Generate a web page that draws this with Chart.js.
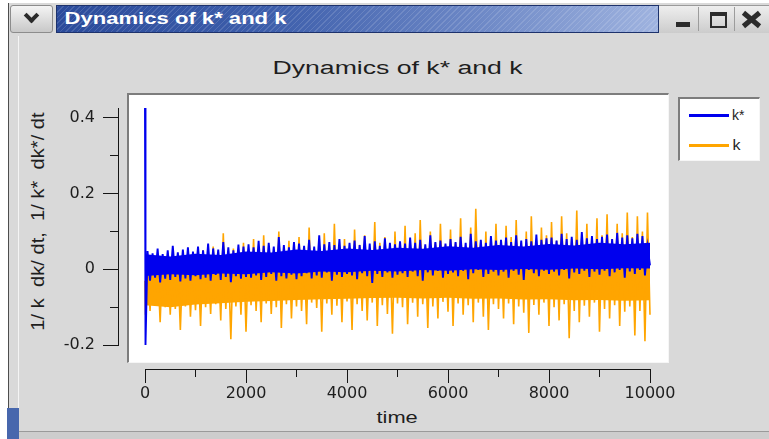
<!DOCTYPE html>
<html>
<head>
<meta charset="utf-8">
<title>Dynamics of k* and k</title>
<script src="https://cdn.jsdelivr.net/npm/chart.js@4.4.1/dist/chart.umd.min.js"></script>
<style>
  html, body { margin: 0; padding: 0; background: #fff; }
  #screen { position: relative; width: 769px; height: 439px; overflow: hidden; background: #fff; font-family: "Liberation Sans", Arial, sans-serif; }
  .abs { position: absolute; }
  .txt { position: absolute; white-space: pre; color: #1e1e1e; line-height: 1; }
  #win { left: 8px; top: 3px; width: 761px; height: 436px; background: #d9d9d9; border-left: 1px solid #4d4d4d; box-sizing: border-box; }
  #innerLine { left: 18px; top: 36px; width: 1px; height: 395px; background: #f4f4f4; }
  #bottomLine { left: 19px; top: 431px; width: 750px; height: 1px; background: #9a9a9a; }
  #bottomStrip { left: 19px; top: 432px; width: 750px; height: 7px; background: #cdcdcd; }
  #taskBlue { left: 7px; top: 408px; width: 12px; height: 31px; background: #4767ad; }
  #menuBtn { left: 10px; top: 5px; width: 43px; height: 28px; box-sizing: border-box; border: 1px solid #8c8c8c; border-radius: 3px; background: linear-gradient(#f4f4f4, #c8c8c8); }
  #chev { left: 15px; top: 4px; width: 7px; height: 7px; border-right: 4px solid #2a2a2a; border-bottom: 4px solid #2a2a2a; transform: rotate(45deg); }
  #titleBar { left: 56px; top: 5px; width: 603px; height: 28px; box-sizing: border-box; border: 1px solid #1d326c;
    background: repeating-linear-gradient(135deg, rgba(255,255,255,0.13) 0 1px, rgba(255,255,255,0) 1px 4px),
                linear-gradient(to right, #2b4b9b 0%, #3d5eab 35%, #6d88c6 70%, #9fb3df 100%); }
  #winTitle { color: #fff; font-weight: bold; font-size: 17px; }
  #btnArea { left: 659px; top: 5px; width: 110px; height: 28px; background: linear-gradient(#eeeeee, #cccccc); border-top: 1px solid #9a9a9a; box-sizing: border-box; }
  #minIcon { left: 676px; top: 22px; width: 14px; height: 5px; background: #2c2c2c; }
  #sep1 { left: 698px; top: 7px; width: 1px; height: 24px; background: #9c9c9c; }
  #maxIcon { left: 710px; top: 12px; width: 17px; height: 16px; box-sizing: border-box; border: 2px solid #2c2c2c; border-top-width: 4px; }
  #sep2 { left: 734px; top: 7px; width: 1px; height: 24px; background: #9c9c9c; }
  .xbar { left: 741px; top: 17px; width: 21px; height: 5px; background: #2c2c2c; }
  #plotBox { left: 127px; top: 93px; width: 542px; height: 270px; box-sizing: border-box; background: #fff;
    border-top: 2px solid #7d7d7d; border-left: 2px solid #7d7d7d; border-right: 1px solid #f6f6f6; border-bottom: 1px solid #f6f6f6; }
  #legendBox { left: 678px; top: 97px; width: 82px; height: 64px; box-sizing: border-box; background: #fff;
    border-top: 2px solid #7d7d7d; border-left: 2px solid #7d7d7d; border-right: 1px solid #f6f6f6; border-bottom: 1px solid #f6f6f6; }
  .legLine { left: 689px; width: 40px; height: 3px; }
  #chart { position: absolute; left: 0; top: 0; }
</style>
</head>
<body>
<div id="screen">
  <div id="win" class="abs"></div>
  <div id="innerLine" class="abs"></div>
  <div id="bottomLine" class="abs"></div>
  <div id="bottomStrip" class="abs"></div>
  <div id="taskBlue" class="abs"></div>
  <div id="menuBtn" class="abs"><div id="chev" class="abs"></div></div>
  <div id="titleBar" class="abs"></div>
  <div id="winTitle" class="txt">Dynamics of k* and k</div>
  <div id="btnArea" class="abs"></div>
  <div id="minIcon" class="abs"></div>
  <div id="sep1" class="abs"></div>
  <div id="maxIcon" class="abs"></div>
  <div id="sep2" class="abs"></div>
  <div class="abs xbar" style="transform: rotate(40deg)"></div>
  <div class="abs xbar" style="transform: rotate(-40deg)"></div>

  <div id="chartTitle" class="txt" style="font-size:18px">Dynamics of k* and k</div>
  <div id="plotBox" class="abs"></div>
  <div id="legendBox" class="abs"></div>
  <div id="leg0" class="abs legLine" style="top:114px"></div>
  <div id="leg1" class="abs legLine" style="top:144px"></div>
  <div id="legText0" class="txt" style="font-size:14px"></div>
  <div id="legText1" class="txt" style="font-size:14px"></div>
  <div id="xTitle" class="txt" style="font-size:16px">time</div>
  <div id="yTitle" class="txt" style="font-size:17px">1/ k  dk/ dt,  1/ k*  dk*/ dt</div>

  <canvas id="chart" width="769" height="439"></canvas>
</div>

<script>
// series names / colours
const seriesNames = ['k*', 'k'];
const seriesColors = ['#0000ee', '#ffa500'];

// time axis: the two first samples hold the start-up spike, then every 50 steps
const time = [0, 10];
for (let t = 50; t <= 10000; t += 50) time.push(t);

// 1/k* dk*/dt (spike tops / spike bottoms alternating)
const kStar = [
  0.426, -0.200,
  0.048,-0.030, 0.042,-0.022, 0.055,-0.035, 0.040,-0.025, 0.050,-0.028, 0.062,-0.020, 0.045,-0.032, 0.052,-0.024, 0.058,-0.030, 0.047,-0.018,
  0.060,-0.026, 0.050,-0.022, 0.068,-0.030, 0.055,-0.015, 0.052,-0.028, 0.072,-0.020, 0.058,-0.034, 0.050,-0.018, 0.065,-0.025, 0.060,-0.020,
  0.066,-0.022, 0.058,-0.016, 0.075,-0.028, 0.062,-0.020, 0.070,-0.012, 0.060,-0.030, 0.085,-0.018, 0.064,-0.024, 0.058,-0.014, 0.072,-0.026,
  0.068,-0.018, 0.062,-0.010, 0.078,-0.024, 0.060,-0.016, 0.090,-0.022, 0.066,-0.008, 0.072,-0.030, 0.064,-0.014, 0.080,-0.020, 0.062,-0.012,
  0.070,-0.016, 0.076,-0.026, 0.064,-0.010, 0.088,-0.018, 0.068,-0.036, 0.074,-0.012, 0.062,-0.020, 0.082,-0.008, 0.070,-0.022, 0.066,-0.014,
  0.074,-0.010, 0.068,-0.020, 0.084,-0.006, 0.070,-0.018, 0.078,-0.030, 0.066,-0.008, 0.090,-0.016, 0.072,-0.004, 0.076,-0.022, 0.068,-0.012,
  0.080,-0.008, 0.072,-0.018, 0.086,-0.004, 0.070,-0.026, 0.094,-0.010, 0.074,-0.002, 0.078,-0.020, 0.070,-0.012, 0.088,-0.006, 0.076,-0.016,
  0.078,-0.006, 0.084,-0.022, 0.072,-0.004, 0.090,-0.014, 0.076,-0.028, 0.080,-0.002, 0.074,-0.010, 0.092,-0.018, 0.078,-0.004, 0.082,-0.012,
  0.084,-0.006, 0.076,-0.016, 0.094,-0.002, 0.080,-0.024, 0.086,-0.008, 0.078,-0.012, 0.098,-0.004, 0.082,-0.020, 0.088,-0.006, 0.080,-0.014,
  0.086,-0.004, 0.092,-0.018, 0.080,-0.008, 0.096,-0.002, 0.084,-0.022, 0.090,-0.006, 0.082,-0.012, 0.094,-0.002, 0.088,-0.016, 0.060, 0.010
];

// 1/k dk/dt
const k = [
  -0.030, -0.120,
  0.020,-0.110, 0.030,-0.095, 0.015,-0.140, 0.035,-0.100, 0.025,-0.120, 0.040,-0.105, 0.020,-0.160, 0.030,-0.098, 0.045,-0.125, 0.025,-0.108,
  0.030,-0.150, 0.050,-0.100, 0.025,-0.118, 0.060,-0.092, 0.035,-0.135, 0.095,-0.105, 0.030,-0.185, 0.055,-0.098, 0.040,-0.120, 0.070,-0.165,
  0.045,-0.095, 0.080,-0.110, 0.035,-0.140, 0.090,-0.090, 0.050,-0.118, 0.040,-0.100, 0.100,-0.155, 0.055,-0.092, 0.075,-0.130, 0.045,-0.098,
  0.085,-0.110, 0.050,-0.145, 0.110,-0.088, 0.045,-0.102, 0.065,-0.165, 0.095,-0.090, 0.050,-0.120, 0.120,-0.096, 0.060,-0.140, 0.080,-0.085,
  0.055,-0.160, 0.105,-0.092, 0.065,-0.110, 0.090,-0.135, 0.050,-0.088, 0.125,-0.150, 0.070,-0.095, 0.085,-0.118, 0.060,-0.170, 0.100,-0.090,
  0.065,-0.100, 0.115,-0.145, 0.055,-0.088, 0.095,-0.125, 0.130,-0.092, 0.060,-0.155, 0.100,-0.098, 0.070,-0.130, 0.120,-0.086, 0.065,-0.112,
  0.105,-0.150, 0.070,-0.090, 0.135,-0.120, 0.060,-0.095, 0.110,-0.140, 0.160,-0.088, 0.075,-0.125, 0.100,-0.160, 0.065,-0.092, 0.120,-0.105,
  0.070,-0.130, 0.115,-0.090, 0.085,-0.145, 0.130,-0.098, 0.070,-0.115, 0.100,-0.168, 0.140,-0.094, 0.075,-0.120, 0.110,-0.088, 0.090,-0.150,
  0.125,-0.100, 0.075,-0.135, 0.140,-0.092, 0.095,-0.182, 0.080,-0.110, 0.155,-0.140, 0.085,-0.096, 0.120,-0.125, 0.075,-0.088, 0.135,-0.165,
  0.090,-0.105, 0.145,-0.130, 0.080,-0.095, 0.120,-0.150, 0.095,-0.112, 0.150,-0.098, 0.085,-0.175, 0.140,-0.110, 0.100,-0.190, 0.150,-0.120
];

// solid body of each noisy band (upper / lower edge), read every 500 steps
const coreTime = [0, 500, 1000, 1500, 2000, 2500, 3000, 3500, 4000, 4500, 5000,
                  5500, 6000, 6500, 7000, 7500, 8000, 8500, 9000, 9500, 10000];
const kStarCoreTop = [0.040, 0.034, 0.041, 0.038, 0.047, 0.044, 0.052, 0.048, 0.055, 0.051, 0.057,
                      0.054, 0.061, 0.057, 0.064, 0.060, 0.067, 0.063, 0.070, 0.066, 0.070];
const kStarCoreBottom = [-0.018, -0.013, -0.016, -0.011, -0.013, -0.008, -0.011, -0.006, -0.008, -0.004, -0.006,
                         -0.002, -0.004, 0.000, -0.002, 0.001, -0.001, 0.002, 0.000, 0.003, 0.002];
const kCoreTop = [0.000, 0.003, 0.005, 0.008, 0.010, 0.012, 0.015, 0.017, 0.020, 0.020, 0.020,
                  0.022, 0.025, 0.027, 0.030, 0.030, 0.030, 0.032, 0.035, 0.035, 0.035];
const kCoreBottom = [-0.095, -0.100, -0.093, -0.090, -0.086, -0.084, -0.081, -0.079, -0.078, -0.076, -0.075,
                     -0.077, -0.075, -0.078, -0.077, -0.080, -0.079, -0.082, -0.081, -0.083, -0.082];

// tick positions
const xMajorTicks = [0, 2000, 4000, 6000, 8000, 10000];
const xMinorTicks = [0, 1000, 2000, 3000, 4000, 5000, 6000, 7000, 8000, 9000, 10000];
const yMajorTicks = [-0.2, 0, 0.2, 0.4];
const yMinorTicks = [-0.2, -0.1, 0, 0.1, 0.2, 0.3, 0.4];

const X_MIN = 0, X_MAX = 10000;
const Y_MIN = -0.2, Y_MAX = 0.426;
// where the detached axes sit (in data units of the other axis)
const X_AXIS_AT = -0.266;
const Y_AXIS_AT = -515;
const Y_LABELS_AT = -990;

const axisColor = '#151515';
const tickFont = { family: 'DejaVu Sans', size: 16 };

function fixedTicks(list) {
  return scale => { scale.ticks = list.map(v => ({ value: v })); };
}

function xScale(ticks, len, showLabels, showBorder) {
  return {
    type: 'linear', axis: 'x', min: X_MIN, max: X_MAX,
    position: { y: X_AXIS_AT },
    afterBuildTicks: fixedTicks(ticks),
    grid: { drawOnChartArea: false, tickLength: len, tickColor: axisColor, tickWidth: 1 },
    border: { display: showBorder, color: axisColor, width: 1 },
    ticks: { display: showLabels, autoSkip: false, maxRotation: 0, padding: 1, color: '#1e1e1e', font: tickFont, callback: v => String(v) }
  };
}

function yScale(ticks, len, showBorder, at) {
  return {
    type: 'linear', axis: 'y', min: Y_MIN, max: Y_MAX,
    position: { x: at },
    afterBuildTicks: fixedTicks(ticks),
    grid: { drawOnChartArea: false, tickLength: len, tickColor: axisColor, tickWidth: 1 },
    border: { display: showBorder, color: axisColor, width: 1 },
    ticks: { display: false }
  };
}

const yLabels = {
  type: 'linear', axis: 'y', min: Y_MIN, max: Y_MAX,
  position: { x: Y_LABELS_AT },
  afterBuildTicks: fixedTicks(yMajorTicks),
  grid: { display: false },
  border: { display: false },
  ticks: { autoSkip: false, color: '#1e1e1e', font: tickFont, callback: v => String(v) }
};

function points(xs, ys) {
  return xs.map((x, i) => ({ x: x, y: ys[i] }));
}

function noisyLine(i, vals, width) {
  return { label: seriesNames[i], data: points(time, vals), borderColor: seriesColors[i],
           borderWidth: width, pointRadius: 0, tension: 0, clip: false, fill: false };
}

function bandEdge(i, vals, fillNext) {
  return { label: seriesNames[i] + ' body', data: points(coreTime, vals), borderWidth: 0,
           borderColor: seriesColors[i], backgroundColor: seriesColors[i],
           pointRadius: 0, tension: 0, clip: false, fill: fillNext ? '+1' : false };
}

// first dataset is painted last, so k* ends on top of k
const datasets = [
  noisyLine(0, kStar, 1.9),
  bandEdge(0, kStarCoreTop, true),
  bandEdge(0, kStarCoreBottom, false),
  noisyLine(1, k, 1.6),
  bandEdge(1, kCoreTop, true),
  bandEdge(1, kCoreBottom, false)
];

new Chart(document.getElementById('chart'), {
  type: 'line',
  data: { datasets: datasets },
  options: {
    responsive: false,
    animation: false,
    devicePixelRatio: 1,
    events: [],
    layout: { padding: { left: 145, right: 119, top: 108, bottom: 94 } },
    plugins: { legend: { display: false }, tooltip: { enabled: false } },
    scales: {
      x: xScale(xMajorTicks, 13, true, true),
      xMinor: xScale(xMinorTicks, 7, false, false),
      y: yScale(yMajorTicks, 15, true, Y_AXIS_AT),
      yMinor: yScale(yMinorTicks, 9, false, Y_AXIS_AT),
      yLab: yLabels
    }
  }
});

// html texts: the screenshot is stretched sideways, so squeeze the texts to the measured widths
function place(id, cx, cy, width, sy, rotate) {
  const el = document.getElementById(id);
  const w = el.offsetWidth, h = el.offsetHeight;
  el.style.left = (cx - w / 2) + 'px';
  el.style.top = (cy - h / 2) + 'px';
  el.style.transform = (rotate ? 'rotate(-90deg) ' : '') + `scale(${width / w}, ${sy})`;
}

seriesNames.forEach((name, i) => {
  document.getElementById('leg' + i).style.background = seriesColors[i];
  document.getElementById('legText' + i).textContent = name;
});

place('winTitle', 175, 18, 222, 1);
place('chartTitle', 397, 68, 250, 1);
place('xTitle', 397, 418, 41, 1);
place('yTitle', 38, 221, 218, 1.05, true);
place('legText0', 738, 115, 12, 1);
place('legText1', 736, 145, 8, 1);
</script>
</body>
</html>
